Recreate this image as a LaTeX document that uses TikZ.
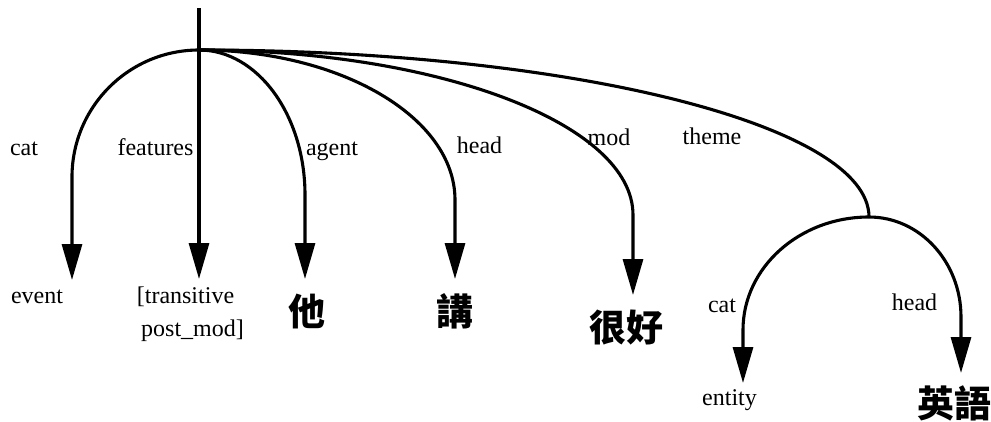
\documentclass[tikz,border=0pt]{standalone}
\usepackage{fontspec}
\setmainfont{Liberation Serif}
\newfontfamily\cjk{Noto Sans CJK TC}
\usetikzlibrary{arrows.meta}
\tikzset{
  edge/.style={line width=3.1pt, -{Triangle[length=36pt,width=20pt]}},
  plain/.style={line width=3.1pt},
  lbl/.style={inner sep=0pt, anchor=base, font=\fontsize{24}{33}\selectfont},
  cjklbl/.style={inner sep=0pt, anchor=center, font=\cjk\bfseries\fontsize{37}{37}\selectfont}
}
\begin{document}
\begin{tikzpicture}[x=1pt,y=-1pt]
\useasboundingbox (0,0) rectangle (991,421);
% junction points
\coordinate (top) at (199,8);
\coordinate (R) at (199,50);
\coordinate (S) at (869,217);
% arrow tips
\coordinate (catTip) at (72,280);
\coordinate (featTip) at (199,279);
\coordinate (agentTip) at (305,279);
\coordinate (headTip) at (455,279);
\coordinate (modTip) at (633,295);
\coordinate (scatTip) at (743,383);
\coordinate (sheadTip) at (961,373);

% edge labels
\node[lbl] (lcat) at (24,155) {cat};
\node[lbl] (lfeat) at (155.5,155) {features};
\node[lbl] (lagent) at (332,155) {agent};
\node[lbl] (lhead) at (479.5,153) {head};
\node[lbl] (lmod) at (609,145) {mod};
\node[lbl] (ltheme) at (712,144) {theme};
\node[lbl] (lscat) at (722,312) {cat};
\node[lbl] (lshead) at (914.5,310) {head};

% value labels
\node[lbl] (event) at (37,303) {event};
\node[lbl] (feat) at (185.5,303) {[transitive};
\node[lbl] (feat2) at (192.5,336) {post\_mod]};
\node[cjklbl] (ta) at (307,311) {他};
\node[cjklbl] (jiang) at (455,311) {講};
\node[cjklbl] (henhao) at (626,328) {很好};
\node[lbl] (entity) at (729.5,405) {entity};
\node[cjklbl] (yingyu) at (954,403) {英語};

% connectors
\draw[edge] (top) -- (featTip);
\draw[edge] (R) .. controls (128.9,50) and (72,106.9) .. (72,177) -- (catTip);
\draw[edge] (R) .. controls (257.5,50) and (305,115) .. (305,195) -- (agentTip);
\draw[edge] (R) .. controls (340.3,50) and (455,117.2) .. (455,200) -- (headTip);
\draw[edge] (R) .. controls (438.6,50) and (633,123.9) .. (633,215) -- (modTip);
\draw[plain] (R) .. controls (568.8,50) and (869,124.8) .. (S);
\draw[edge] (S) .. controls (799.4,217) and (743,267.6) .. (743,330) -- (scatTip);
\draw[edge] (S) .. controls (919.8,217) and (961,261.8) .. (961,317) -- (sheadTip);
\end{tikzpicture}
\end{document}
